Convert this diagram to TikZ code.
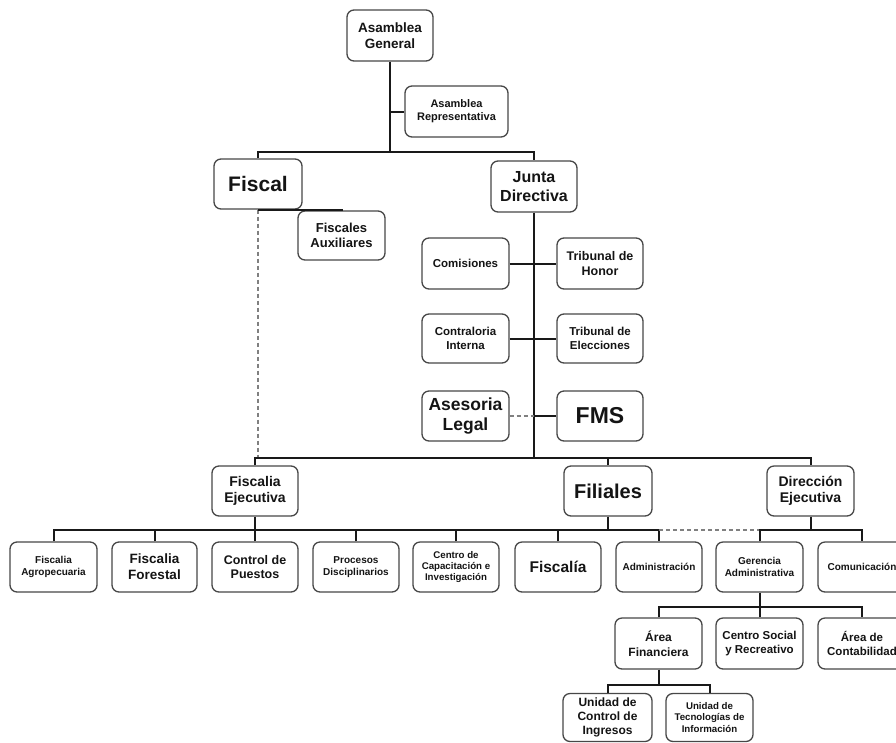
\documentclass[tikz,border=0pt]{standalone}
\usepackage{fontspec}
\setmainfont{Liberation Sans}
\begin{document}
\begin{tikzpicture}[x=1pt,y=-1pt,
 box/.style={draw=black!72, line width=1.3pt, rounded corners=7pt, fill=white, align=center, inner sep=1pt, text=black!92},
 sz/.style 2 args={minimum width=#1, minimum height=#2},
 fs/.style 2 args={font=\bfseries\fontsize{#1}{#2}\selectfont},
 ln/.style={line width=2pt, black!90},
 dsh/.style={line width=1.2pt, black!50, dash pattern=on 4pt off 3pt}]
\useasboundingbox (0,0) rectangle (896,742);
% top
\node[box,sz={86pt}{51pt},fs={13.5}{15.5}] (ag) at (390,35.5) {Asamblea\\General};
\node[box,sz={103pt}{51pt},fs={11}{13}] (ar) at (456.5,111.5) {Asamblea\\Representativa};
\node[box,sz={88pt}{50pt},fs={21}{24}] (fis) at (258,184) {Fiscal};
\node[box,sz={86pt}{51pt},fs={16}{18.5}] (jd) at (534,186.5) {Junta\\Directiva};
\node[box,sz={87pt}{49pt},fs={13}{15}] (fa) at (341.5,235.5) {Fiscales\\Auxiliares};
% junta children
\node[box,sz={87pt}{51pt},fs={11.5}{13.5}] (com) at (465.5,263.5) {Comisiones};
\node[box,sz={86pt}{51pt},fs={12.5}{14.5}] (th) at (600,263.5) {Tribunal de\\Honor};
\node[box,sz={87pt}{49pt},fs={11.5}{14}] (ci) at (465.5,338.5) {Contraloria\\Interna};
\node[box,sz={86pt}{49pt},fs={11.5}{14}] (te) at (600,338.5) {Tribunal de\\Elecciones};
\node[box,sz={87pt}{50pt},fs={17.5}{20}] (al) at (465.5,416) {Asesoria\\Legal};
\node[box,sz={86pt}{50pt},fs={23}{26}] (fms) at (600,416) {FMS};
% level 3
\node[box,sz={86pt}{50pt},fs={14}{16.5}] (fe) at (255,491) {Fiscalia\\Ejecutiva};
\node[box,sz={88pt}{50pt},fs={20}{23}] (fil) at (608,491) {Filiales};
\node[box,sz={87pt}{50pt},fs={14}{16.5}] (de) at (810.5,491) {Dirección\\Ejecutiva};
% level 4
\node[box,sz={87pt}{50pt},fs={10}{12}] (fag) at (53.5,567) {Fiscalia\\Agropecuaria};
\node[box,sz={85pt}{50pt},fs={13.5}{16}] (ff) at (154.5,567) {Fiscalia\\Forestal};
\node[box,sz={86pt}{50pt},fs={12.5}{14.5}] (cp) at (255,567) {Control de\\Puestos};
\node[box,sz={86pt}{50pt},fs={10}{12}] (pd) at (356,567) {Procesos\\Disciplinarios};
\node[box,sz={86pt}{50pt},fs={9.7}{11.2}] (cc) at (456,567) {Centro de\\Capacitación e\\Investigación};
\node[box,sz={86pt}{50pt},fs={15.5}{18}] (fia) at (558,567) {Fiscalía};
\node[box,sz={86pt}{50pt},fs={10}{12}] (adm) at (659,567) {Administración};
\node[box,sz={87pt}{50pt},fs={10}{12}] (ga) at (759.5,567) {Gerencia\\Administrativa};
\node[box,sz={88pt}{50pt},fs={10}{12}] (cmu) at (862,567) {Comunicación};
% level 5
\node[box,sz={87pt}{51pt},fs={12}{15}] (af) at (658.5,643.5) {Área\\Financiera};
\node[box,sz={87pt}{51pt},fs={11.5}{13.5}] (cs) at (759.5,643.5) {Centro Social\\y Recreativo};
\node[box,sz={88pt}{51pt},fs={11.5}{13.5}] (ac) at (862,643.5) {Área de\\Contabilidad};
% level 6
\node[box,sz={89pt}{48pt},fs={12}{14}] (uc) at (607.5,717.5) {Unidad de\\Control de\\Ingresos};
\node[box,sz={87pt}{48pt},fs={9.7}{11.5}] (ut) at (709.5,717.5) {Unidad de\\Tecnologías de\\Información};
% junction coordinates
\coordinate (j1) at (390,152);
\coordinate (j2) at (534,458);
\coordinate (j3) at (255,530);
\coordinate (j4) at (608,530);
\coordinate (j5) at (810.5,530);
\coordinate (j6) at (759.5,607);
\coordinate (j7) at (658.5,685);
% connectors
\draw[dsh] (fis.south) -- (fis.south |- j2);
\draw[ln] (ag.south) -- (j1);
\draw[ln] (ag.south |- ar.west) -- (ar.west);
\draw[ln] (fis.north) |- (j1) -| (jd.north);
\draw[ln] (fis.south) -| (fa.north);
\draw[ln] (jd.south) -- (j2);
\draw[ln] (com.east) -- (th.west);
\draw[ln] (ci.east) -- (te.west);
\draw[dsh] (al.east) -- (jd.south |- al.east);
\draw[ln] (jd.south |- fms.west) -- (fms.west);
\draw[ln] (fe.north) |- (j2) -| (de.north);
\draw[ln] (fil.north) -- (fil.north |- j2);
\draw[ln] (fe.south) -- (j3);
\draw[ln] (fil.south) -- (j4);
\draw[ln] (fag.north) |- (j3) -| (adm.north);
\foreach \n in {ff,cp,pd,cc,fia} \draw[ln] (\n.north) -- (\n.north |- j3);
\draw[dsh] (adm.north |- j3) -- (ga.north |- j3);
\draw[ln] (de.south) -- (j5);
\draw[ln] (ga.north) |- (j5) -| (cmu.north);
\draw[ln] (ga.south) -- (j6);
\draw[ln] (af.north) |- (j6) -| (ac.north);
\draw[ln] (cs.north) -- (j6);
\draw[ln] (af.south) -- (j7);
\draw[ln] (uc.north) |- (j7) -| (ut.north);
\end{tikzpicture}
\end{document}
